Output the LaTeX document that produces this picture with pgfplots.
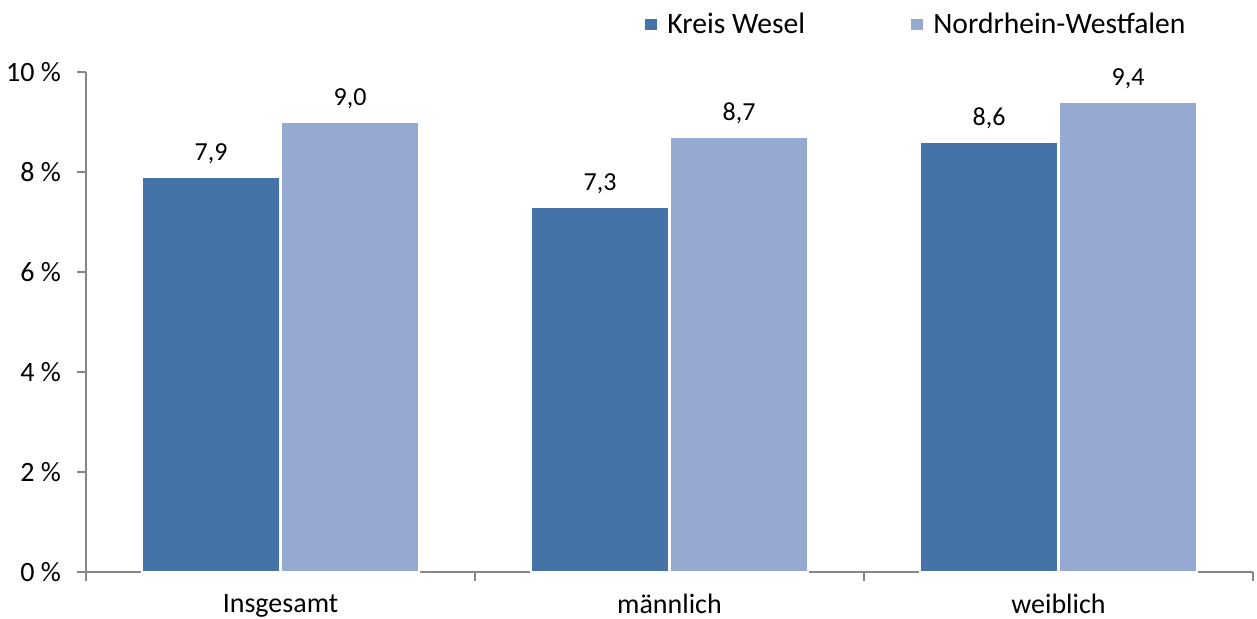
\documentclass[border=0pt]{standalone}
\usepackage{pgfplots}
\pgfplotsset{compat=1.18}
\usepackage{fontspec}
\setmainfont{Carlito}
\definecolor{kw}{HTML}{4572A7}
\definecolor{nrw}{HTML}{95A9D1}
\definecolor{axgray}{HTML}{868686}
\begin{document}
\begin{tikzpicture}
\useasboundingbox (-43pt,-23.5pt) rectangle (585.5pt,286pt);
\begin{axis}[
  scale only axis,
  width=583.5pt, height=250pt,
  xmin=-0.5, xmax=2.5,
  ymin=0, ymax=10,
  ybar=0.5pt, bar width=69pt,
  axis lines*=left,
  axis line style={axgray, line width=0.8pt},
  xtick={0,1,2},
  xticklabels={Insgesamt,männlich,weiblich},
  minor xtick={-0.5,0.5,1.5,2.5},
  ytick={0,2,4,6,8,10},
  yticklabels={0 \%,2 \%,4 \%,6 \%,8 \%,10 \%},
  tick style={axgray, line width=0.8pt},
  major x tick style={draw=none},
  tick align=outside,
  major tick length=4.5pt,
  minor tick length=4.5pt,
  font=\fontsize{14pt}{16pt}\selectfont,
  ticklabel style={font=\fontsize{14pt}{16pt}\selectfont},
  xticklabel style={yshift=-3pt},
  yticklabel style={xshift=-4.5pt},
  /pgf/number format/assume math mode=true,
  nodes near coords,
  nodes near coords style={font=\fontsize{13pt}{15pt}\selectfont, anchor=south, yshift=3pt, /pgf/number format/.cd, fixed, fixed zerofill, precision=1, use comma},
  legend columns=2,
  legend style={draw=none, fill=none, inner sep=0pt, anchor=west, at={(rel axis cs:0.478,1)}, yshift=23.5pt, font=\fontsize{14.8pt}{17pt}\selectfont,
    /tikz/every even column/.append style={column sep=50.5pt}},
  legend image code/.code={\fill[#1] (0pt,-3pt) rectangle (6.5pt,3.5pt);},
  clip=false,
]
\addplot[fill=kw, draw=white, line width=0.6pt] coordinates {(0,7.9) (1,7.3) (2,8.6)};
\addplot[fill=nrw, draw=white, line width=0.6pt] coordinates {(0,9.0) (1,8.7) (2,9.4)};
\legend{\hspace{2.5pt}Kreis Wesel, \hspace{2.5pt}Nordrhein-Westfalen}
\end{axis}
\end{tikzpicture}
\end{document}
